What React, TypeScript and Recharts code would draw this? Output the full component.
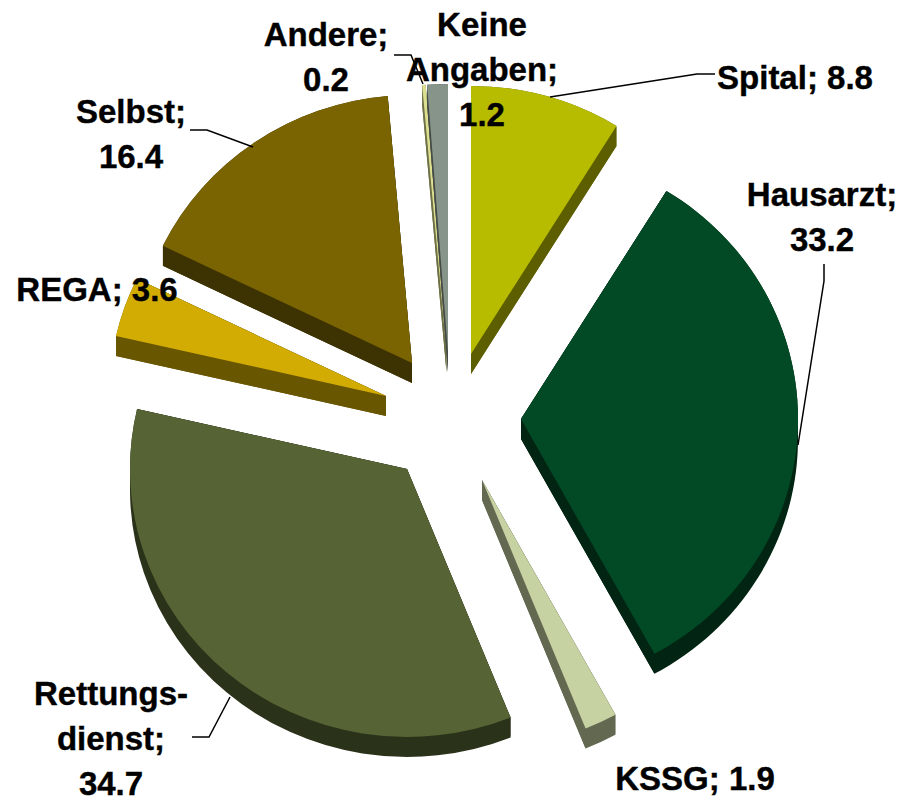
import { PieChart, Pie } from "recharts";

// values as printed on the slice labels
const categories = ["Spital", "Hausarzt", "KSSG", "Rettungsdienst", "REGA", "Selbst", "Andere", "Keine Angaben"];
const values = [8.8, 33.2, 1.9, 34.7, 3.6, 16.4, 0.2, 1.2];

const faceColors = ["#B8BC00", "#024A25", "#C6D2A2", "#566334", "#D2AC03", "#7A6402", "#DCDF8F", "#879489"];
const sideColors = ["#5C5E00", "#012512", "#636951", "#2B321A", "#695601", "#3D3201", "#6E7047", "#444A45"];

// how far each slice is pulled away from the pie centre
const explodeX = [21, 71, 32, -43, -64, -38, -3.5, -2];
const explodeY = [-56, 9, 70, 59, -14, -47, -58, -58];

const labelLines = [
  ["Spital; 8.8"],
  ["Hausarzt;", "33.2"],
  ["KSSG; 1.9"],
  ["Rettungs-", "dienst;", "34.7"],
  ["REGA; 3.6"],
  ["Selbst;", "16.4"],
  ["Andere;", "0.2"],
  ["Keine", "Angaben;", "1.2"],
];
const labelX = [795, 822, 695, 111, 97, 131, 326, 482];
const labelY = [89, 206, 790, 705, 301, 123, 46, 36];
const leaders = [
  "M715 74 L697 74 L550 97",
  "M824 264 L824 281 L798 445",
  "",
  "M192 737 L209 737 L230 697",
  "",
  "M190 130 L207 130 L253 147",
  "M394 55 L411 55 L423 84",
  "",
];

const chartData = categories.map((name, i) => ({ name, value: values[i] }));

const WIDTH = 903;
const HEIGHT = 798;
const DEPTH = 20;
const RX_STRETCH = 277 / 268; // the tilted pie is a bit wider than tall

function SliceShape(props: any) {
  const { cx, cy, outerRadius, startAngle, endAngle, name } = props;
  const i = categories.indexOf(name);
  const ax = cx + explodeX[i];
  const ay = cy + explodeY[i];
  const rx = outerRadius * RX_STRETCH;
  const ry = outerRadius;
  const a0 = (startAngle * Math.PI) / 180;
  const a1 = (endAngle * Math.PI) / 180;
  const x0 = ax + rx * Math.cos(a0);
  const y0 = ay - ry * Math.sin(a0);
  const x1 = ax + rx * Math.cos(a1);
  const y1 = ay - ry * Math.sin(a1);
  const large = Math.abs(startAngle - endAngle) > 180 ? 1 : 0;
  const wedge = (k: number) =>
    `M${ax} ${ay + k} L${x0} ${y0 + k} A${rx} ${ry} 0 ${large} 1 ${x1} ${y1 + k} Z`;

  // side wall: the same wedge repeated downwards, as one path so no seams show
  let side = "";
  for (let k = 0; k <= DEPTH; k++) side += wedge(k) + " ";

  // the straight cut faces, so narrow tips do not break up into steps
  const cut0 = `M${ax} ${ay} L${x0} ${y0} L${x0} ${y0 + DEPTH} L${ax} ${ay + DEPTH} Z`;
  const cut1 = `M${ax} ${ay} L${x1} ${y1} L${x1} ${y1 + DEPTH} L${ax} ${ay + DEPTH} Z`;

  return (
    <g>
      <path d={cut0} fill={sideColors[i]} />
      <path d={cut1} fill={sideColors[i]} />
      <path d={side} fill={sideColors[i]} />
      <path d={wedge(0)} fill={faceColors[i]} />
    </g>
  );
}

function SliceLabel(props: any) {
  const i = props.index;
  return (
    <g>
      {leaders[i] && <path d={leaders[i]} fill="none" stroke="#000" strokeWidth={1.5} />}
      <text
        textAnchor="middle"
        fontFamily="Liberation Sans"
        fontWeight="bold"
        fontSize={33}
        fill="#000"
        stroke="#000"
        strokeWidth={0.4}
      >
        {labelLines[i].map((line, n) => (
          <tspan key={n} x={labelX[i]} y={labelY[i] + n * 45}>
            {line}
          </tspan>
        ))}
      </text>
    </g>
  );
}

export default function App() {
  return (
    <div style={{ position: "absolute", left: 0, top: 0, width: WIDTH, height: HEIGHT }}>
      <PieChart width={WIDTH} height={HEIGHT} margin={{ top: 0, right: 0, bottom: 0, left: 0 }}>
        <Pie
          data={chartData}
          dataKey="value"
          nameKey="name"
          cx={450}
          cy={410}
          outerRadius={268}
          startAngle={90}
          endAngle={-270}
          stroke="none"
          shape={SliceShape}
          label={SliceLabel}
          labelLine={false}
          isAnimationActive={false}
        />
      </PieChart>
    </div>
  );
}
